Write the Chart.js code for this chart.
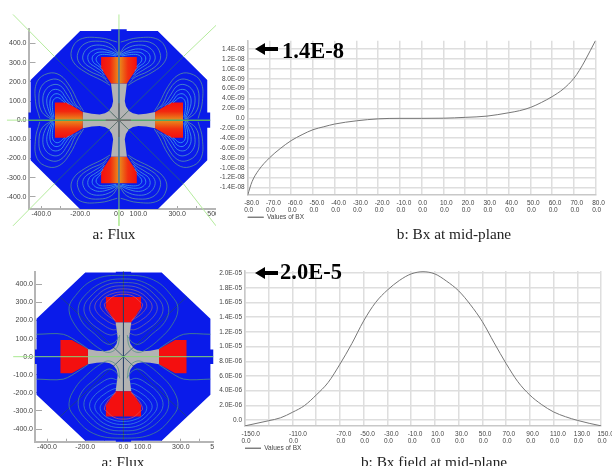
<!DOCTYPE html>
<html>
<head>
<meta charset="utf-8">
<script src="https://cdn.jsdelivr.net/npm/chart.js@4"></script>
<style>
    html, body { margin: 0; padding: 0; background: #fff; width: 612px; height: 466px; overflow: hidden; }
    canvas { position: absolute; filter: blur(0.45px); }
    .caption { position: absolute; font: 15.3px "Liberation Serif", serif; color: #222; white-space: nowrap; transform: translateX(-50%); filter: blur(0.3px); }
    .note { position: absolute; font: bold 22.5px "Liberation Serif", serif; color: #000; white-space: nowrap; }
    .arrow { position: absolute; width: 23px; height: 12px; background: #000; clip-path: polygon(0 50%, 10px 0, 10px 4px, 100% 4px, 100% 8px, 10px 8px, 10px 100%); }
</style>
</head>
<body>
<canvas id="fluxA" width="216" height="222" style="left:0;top:8px"></canvas>
<canvas id="fieldA" width="396" height="197" style="left:216px;top:35px"></canvas>
<canvas id="fluxB" width="219" height="200" style="left:0;top:262px;clip-path:inset(0 5px 0 0)"></canvas>
<canvas id="fieldB" width="396" height="202" style="left:216px;top:263px"></canvas>

<div class="arrow" style="left:255px;top:43px"></div>
<div class="note" style="left:282px;top:38px">1.4E-8</div>
<div class="arrow" style="left:255px;top:267px"></div>
<div class="note" style="left:280px;top:259px">2.0E-5</div>
<div class="caption" style="left:114px;top:225px">a: Flux</div>
<div class="caption" style="left:454px;top:225px">b: Bx at mid-plane</div>
<div class="caption" style="left:123px;top:453px">a: Flux</div>
<div class="caption" style="left:434px;top:453px">b: Bx field at mid-plane</div>

<script>
// Field at mid-plane, top chart
const fieldAX = [-80, -78, -75, -70, -65, -60, -55, -50, -45, -40, -30, -20, -10, 0, 10, 20, 30, 40, 45, 50, 55, 60, 65, 70, 72.5, 75, 80];
const fieldAY = [-1.55e-8, -1.28e-8, -1.05e-8, -8.0e-9, -6.1e-9, -4.5e-9, -3.3e-9, -2.3e-9, -1.7e-9, -1.15e-9, -5.0e-10, -1.0e-10, 0, 0, 3.0e-11, 2.0e-10, 4.5e-10, 1.13e-9, 1.55e-9, 2.2e-9, 3.2e-9, 4.4e-9, 5.9e-9, 8.1e-9, 9.7e-9, 1.16e-8, 1.58e-8];
const fieldATickX = [-80, -70, -60, -50, -40, -30, -20, -10, 0, 10, 20, 30, 40, 50, 60, 70, 80];
const fieldATickY = [1.4e-8, 1.2e-8, 1e-8, 8e-9, 6e-9, 4e-9, 2e-9, 0, -2e-9, -4e-9, -6e-9, -8e-9, -1e-8, -1.2e-8, -1.4e-8];
const fieldALabelX = ['-80.0', '-70.0', '-60.0', '-50.0', '-40.0', '-30.0', '-20.0', '-10.0', '0.0', '10.0', '20.0', '30.0', '40.0', '50.0', '60.0', '70.0', '80.0'];
const fieldALabelY = ['1.4E-08', '1.2E-08', '1.0E-08', '8.0E-09', '6.0E-09', '4.0E-09', '2.0E-09', '0.0', '-2.0E-09', '-4.0E-09', '-6.0E-09', '-8.0E-09', '-1.0E-08', '-1.2E-08', '-1.4E-08'];

// Field at mid-plane, bottom chart
const fieldBX = [-150, -130, -120, -110, -100, -90, -80, -70, -60, -50, -40, -30, -20, -10, 0, 10, 20, 30, 40, 50, 60, 70, 80, 90, 100, 110, 120, 130, 140, 150];
const fieldBY = [-8e-7, -1e-7, 3e-7, 1.05e-6, 1.95e-6, 3.4e-6, 5.1e-6, 7.6e-6, 1.04e-5, 1.35e-5, 1.6e-5, 1.77e-5, 1.9e-5, 1.99e-5, 2.02e-5, 1.99e-5, 1.89e-5, 1.76e-5, 1.57e-5, 1.34e-5, 1.05e-5, 7.7e-6, 5.2e-6, 3.4e-6, 2.1e-6, 1.1e-6, 4.5e-7, -5e-8, -4.5e-7, -8e-7];
const fieldBTickX = [-150, -130, -110, -90, -70, -50, -30, -10, 10, 30, 50, 70, 90, 110, 130, 150];
const fieldBTickY = [2e-5, 1.8e-5, 1.6e-5, 1.4e-5, 1.2e-5, 1e-5, 8e-6, 6e-6, 4e-6, 2e-6, 0];
const fieldBLabelX = ['-150.0', '', '-110.0', '', '-70.0', '-50.0', '-30.0', '-10.0', '10.0', '30.0', '50.0', '70.0', '90.0', '110.0', '130.0', '150.0'];
const fieldBLabelY = ['2.0E-05', '1.8E-05', '1.6E-05', '1.4E-05', '1.2E-05', '1.0E-05', '8.0E-06', '6.0E-06', '4.0E-06', '2.0E-06', '0.0'];

// Magnet cross-section, shared by both flux plots
const fluxTickX = [-400, -300, -200, -100, 0, 100, 200, 300, 400, 500];
const fluxTickY = [400, 300, 200, 100, 0, -100, -200, -300, -400];
const fluxLabelX = ['-400.0', '', '-200.0', '', '0.0', '100.0', '', '300.0', '', '500.0'];
const fluxLabelY = ['400.0', '300.0', '200.0', '100.0', '0.0', '-100.0', '-200.0', '-300.0', '-400.0'];
const yokeShape = [[-200, 465], [-40, 465], [-40, 475], [40, 475], [40, 465], [200, 465], [455, 210], [455, 40], [470, 40], [470, -40], [455, -40], [455, -210], [200, -465], [40, -465], [40, -478], [-40, -478], [-40, -465], [-200, -465], [-455, -210], [-455, -40], [-470, -40], [-470, 40], [-455, 40], [-455, 210]];
const poleTop = [[-92, 330], [92, 330], [92, 270], [41, 191], [-41, 191], [-92, 270]];
const poleBottom = [[-92, -330], [92, -330], [92, -270], [41, -191], [-41, -191], [-92, -270]];
const poleRight = [[186, 42], [270, 92], [330, 92], [330, -92], [270, -92], [186, -42]];
const poleLeft = [[-186, 42], [-270, 92], [-330, 92], [-330, -92], [-270, -92], [-186, -42]];
const ironCross = [[-41, 191], [41, 191], [36, 150], [30, 100], [36, 72], [52, 48], [72, 36], [100, 30], [140, 33], [186, 42], [186, -42], [140, -33], [100, -30], [72, -36], [52, -48], [36, -72], [30, -100], [36, -150], [41, -191], [-41, -191], [-36, -150], [-30, -100], [-36, -72], [-52, -48], [-72, -36], [-100, -30], [-140, -33], [-186, -42], [-186, 42], [-140, 33], [-100, 30], [-72, 36], [-52, 48], [-36, 72], [-30, 100], [-36, 150]];
const guideInside = [[[-332, 332], [332, -332]], [[-332, -332], [332, 332]]];
const guideOutsideA = [[[-546, 552], [-332, 332]], [[332, -332], [500, -552]], [[-546, -552], [-332, -332]], [[332, 332], [500, 495]], [[-577, 0], [-470, 0]], [[0, 475], [0, 552]], [[0, -465], [0, -552]]];
const centerMarkA = [[[-68, 0], [62, 0]], [[0, 88], [0, -88]], [[-38, 38], [38, -38]], [[-38, -38], [38, 38]]];

// One flux lobe of the top plot, the other seven are its reflections
const loopsA = [
    [[-9, 408], [-98, 430], [-200, 422], [-244, 365], [-235, 304], [-175, 252], [-89, 208], [-46, 182]],
    [[-5, 350], [-40, 395], [-100, 412], [-175, 400], [-212, 350], [-205, 300], [-150, 255], [-85, 225], [-55, 195]],
    [[-5, 345], [-40, 375], [-100, 392], [-155, 380], [-185, 340], [-178, 300], [-135, 268], [-90, 240], [-65, 215]],
    [[-5, 342], [-45, 360], [-100, 372], [-140, 360], [-160, 335], [-152, 300], [-122, 278], [-90, 255], [-75, 235]],
    [[-8, 338], [-50, 352], [-100, 355], [-125, 345], [-138, 325], [-130, 300], [-110, 285], [-92, 270], [-82, 255]],
    [[-15, 335], [-55, 342], [-95, 342], [-112, 332], [-118, 318], [-112, 302], [-100, 290], [-92, 278]]
];
const loopColorsA = ['#5a9098', '#5a94a8', '#5098c8', '#48a0e0', '#40a8f0', '#38a8f0'];

// Left half of each flux loop of the bottom plot, top side
const loopsB = [
    [[0, 450], [-158, 424], [-263, 322], [-285, 258], [-254, 175], [-193, 102], [-114, 37], [-71, 24], [-32, 55], [-20, 120]],
    [[0, 430], [-110, 410], [-205, 335], [-237, 265], [-215, 190], [-150, 125], [-85, 70], [-45, 80], [-25, 110]],
    [[0, 410], [-95, 395], [-175, 330], [-207, 270], [-185, 205], [-125, 150], [-70, 120], [-30, 130]],
    [[0, 392], [-85, 378], [-150, 325], [-177, 275], [-160, 225], [-105, 175], [-60, 150], [-35, 150]],
    [[0, 375], [-72, 362], [-128, 320], [-150, 280], [-135, 240], [-90, 200], [-55, 180], [-38, 175]],
    [[0, 358], [-60, 348], [-105, 320], [-122, 285], [-110, 255], [-80, 225], [-50, 205], [-40, 195]],
    [[0, 345], [-50, 335], [-90, 300], [-100, 290], [-85, 250], [-55, 215], [-42, 200]]
];
const loopColorsBTop = ['#4f9080', '#568a84', '#648090', '#7a7498', '#90688c', '#a0607c', '#e05060'];
const loopColorsBBottom = ['#4f9080', '#4c8e94', '#4a90b0', '#4692cc', '#4094dc', '#3a94e4', '#e05060'];
const wingB = [[-455, 124], [-315, 124], [-228, 74], [-184, 42]];
const guideOutsideB = [[[-577, 0], [-470, 0]]];

function toPoints(pairs) {
    return pairs.map(function(p) { return { x: p[0], y: p[1] }; });
}

function shapeSet(pairs, color) {
    return {
        data: toPoints(pairs.concat([pairs[0]])),
        showLine: true, fill: 'shape', tension: 0, pointRadius: 0,
        borderWidth: 0, borderColor: 'transparent', backgroundColor: color
    };
}

function lineSet(pairs, color, width, tension, clip) {
    let set = {
        data: toPoints(pairs),
        showLine: true, fill: false, tension: tension, pointRadius: 0,
        borderWidth: width, borderColor: color
    };
    if (clip === false) {
        set.clip = false;
    }
    return set;
}

// Fill of the poles in the top plot, hot stripe along the pole axis
function poleGlow(axis) {
    return function(context) {
        let chart = context.chart;
        if (!chart.chartArea) {
            return '#f01010';
        }
        let grad;
        if (axis === 'x') {
            grad = chart.ctx.createLinearGradient(chart.scales.x.getPixelForValue(-92), 0, chart.scales.x.getPixelForValue(92), 0);
        } else {
            grad = chart.ctx.createLinearGradient(0, chart.scales.y.getPixelForValue(92), 0, chart.scales.y.getPixelForValue(-92));
        }
        grad.addColorStop(0, '#f40f0f');
        grad.addColorStop(0.25, '#f2260f');
        grad.addColorStop(0.5, '#e8901c');
        grad.addColorStop(0.75, '#f2300f');
        grad.addColorStop(1, '#f40f0f');
        return grad;
    };
}

function mirrored(pairs, mapX, mapY, swap) {
    return pairs.map(function(p) {
        return swap ? [p[1] * mapX, p[0] * mapY] : [p[0] * mapX, p[1] * mapY];
    });
}

function fluxSetsA() {
    let sets = [
        shapeSet(yokeShape, '#0a1bea'),
        shapeSet(ironCross, '#b3b3b3'),
        shapeSet(poleTop, poleGlow('x')),
        shapeSet(poleBottom, poleGlow('x')),
        shapeSet(poleLeft, poleGlow('y')),
        shapeSet(poleRight, poleGlow('y'))
    ];
    sets.push(lineSet([[-470, 0], [470, 0]], '#4fa86a', 1.5, 0));
    sets.push(lineSet([[0, 475], [0, -465]], '#4f7f9a', 1, 0));
    guideInside.forEach(function(seg) {
        sets.push(lineSet(seg, '#2c6d62', 0.7, 0));
    });
    guideOutsideA.forEach(function(seg) {
        sets.push(lineSet(seg, '#b4eb9c', 1, 0, false));
    });
    loopsA.forEach(function(loop, i) {
        [[1, 1, false], [-1, 1, false], [1, -1, false], [-1, -1, false], [1, 1, true], [-1, 1, true], [1, -1, true], [-1, -1, true]].forEach(function(m) {
            sets.push(lineSet(mirrored(loop, m[0], m[1], m[2]), loopColorsA[i], 0.8, 0.4));
        });
    });
    centerMarkA.forEach(function(seg, i) {
        sets.push(lineSet(seg, '#6d6d6d', i < 2 ? 1.5 : 0.7, 0));
    });
    // first dataset is painted last by Chart.js, so turn the stack over
    return sets.reverse();
}

function fluxSetsB() {
    let sets = [
        shapeSet(yokeShape, '#0a1bea'),
        shapeSet(ironCross, '#b3b3b3'),
        shapeSet(poleTop, '#f40f0f'),
        shapeSet(poleBottom, '#f40f0f'),
        shapeSet(poleLeft, '#f40f0f'),
        shapeSet(poleRight, '#f40f0f')
    ];
    guideInside.forEach(function(seg) {
        sets.push(lineSet(seg, '#1e4a66', 0.7, 0));
    });
    sets.push(lineSet([[0, 475], [0, -465]], '#28406a', 0.7, 0));
    [[1, 1], [-1, 1], [1, -1], [-1, -1]].forEach(function(m) {
        sets.push(lineSet(mirrored(wingB, m[0], m[1], false), '#4f9080', 0.8, 0.3));
    });
    loopsB.forEach(function(half, i) {
        let whole = mirrored(half.slice(1).reverse(), -1, 1, false).concat(half);
        sets.push(lineSet(whole, loopColorsBTop[i], 0.7, 0.4));
        sets.push(lineSet(mirrored(whole, 1, -1, false), loopColorsBBottom[i], 0.7, 0.4));
    });
    sets.push(lineSet([[-470, 0], [470, 0]], '#86d873', 1, 0));
    guideOutsideB.forEach(function(seg) {
        sets.push(lineSet(seg, '#a8e88e', 1, 0, false));
    });
    return sets.reverse();
}

// Pins the plot rectangle: a fixed axis size and no extra margin for the end labels
function fixSize(size, isX) {
    return function(scale) {
        if (isX) {
            scale.height = size;
        } else {
            scale.width = size;
        }
        scale.paddingLeft = scale.paddingRight = scale.paddingTop = scale.paddingBottom = 0;
    };
}

function fixTicks(values) {
    return function(scale) {
        scale.ticks = values.map(function(v) { return { value: v }; });
    };
}

function makeFluxChart(id, sets, xMin, xMax, yMin, yMax, left, top, bottomAxis) {
    new Chart(document.getElementById(id).getContext('2d'), {
        type: 'scatter',
        data: { datasets: sets },
        options: {
            responsive: false,
            animation: false,
            layout: { padding: { top: top, left: 0, right: 0, bottom: 0 } },
            plugins: { legend: { display: false }, tooltip: { enabled: false } },
            scales: {
                x: {
                    type: 'linear', min: xMin, max: xMax,
                    afterFit: fixSize(bottomAxis, true),
                    afterBuildTicks: fixTicks(fluxTickX),
                    border: { color: '#b5b5b5', width: 2 },
                    grid: { drawOnChartArea: false, tickLength: -3, color: '#a8a8a8' },
                    ticks: {
                        autoSkip: false, maxRotation: 0, padding: 4, color: '#444',
                        font: { family: '"Liberation Sans", sans-serif', size: 7 },
                        callback: function(value, index) { return fluxLabelX[index]; }
                    }
                },
                y: {
                    type: 'linear', min: yMin, max: yMax,
                    afterFit: fixSize(left, false),
                    afterBuildTicks: fixTicks(fluxTickY),
                    border: { color: '#b5b5b5', width: 2 },
                    grid: { drawOnChartArea: false, tickLength: -7, color: '#a8a8a8' },
                    ticks: {
                        autoSkip: false, padding: 9, color: '#444',
                        font: { family: '"Liberation Sans", sans-serif', size: 7 },
                        callback: function(value, index) { return fluxLabelY[index]; }
                    }
                }
            }
        }
    });
}

// Moves the legend under the plot's left edge instead of the canvas edge
const legendAtPlot = {
    id: 'legendAtPlot',
    afterLayout: function(chart) {
        chart.legend.left = chart.chartArea.left - 2;
        chart.legend.top = chart.chartArea.bottom + 17;
    }
};

function makeFieldChart(id, xs, ys, tickX, tickY, labelX, labelY, xMin, xMax, yMin, yMax, left, top, right, axisHeight) {
    new Chart(document.getElementById(id).getContext('2d'), {
        type: 'line',
        data: {
            datasets: [{
                label: 'Values of BX',
                data: xs.map(function(x, i) { return { x: x, y: ys[i] }; }),
                borderColor: '#777',
                backgroundColor: 'transparent',
                borderWidth: 1,
                cubicInterpolationMode: 'monotone',
                pointRadius: 0,
                fill: false
            }]
        },
        plugins: [legendAtPlot],
        options: {
            responsive: false,
            animation: false,
            layout: { padding: { top: top, right: right, left: 0, bottom: 0 } },
            plugins: {
                tooltip: { enabled: false },
                legend: {
                    position: 'bottom', align: 'start',
                    labels: {
                        boxWidth: 16, boxHeight: 0, padding: 2, color: '#444',
                        font: { family: '"Liberation Sans", sans-serif', size: 6.5 }
                    }
                }
            },
            scales: {
                x: {
                    type: 'linear', min: xMin, max: xMax,
                    afterFit: fixSize(axisHeight, true),
                    afterBuildTicks: fixTicks(tickX),
                    border: { color: '#c8c8c8', width: 1.5 },
                    grid: { color: '#dedede', lineWidth: 1.5, drawTicks: false },
                    ticks: {
                        autoSkip: false, maxRotation: 0, align: 'start', labelOffset: -3.5, padding: 4.5, color: '#444',
                        font: { family: '"Liberation Sans", sans-serif', size: 6.5, lineHeight: 1.1 },
                        callback: function(value, index) {
                            return labelX[index] === '' ? '' : [labelX[index], '0.0'];
                        }
                    }
                },
                y: {
                    type: 'linear', min: yMin, max: yMax,
                    afterFit: fixSize(left, false),
                    afterBuildTicks: fixTicks(tickY),
                    border: { color: '#c8c8c8', width: 1.5 },
                    grid: { color: '#dedede', lineWidth: 1.5, drawTicks: false },
                    ticks: {
                        autoSkip: false, padding: 3, color: '#444',
                        font: { family: '"Liberation Sans", sans-serif', size: 6.5 },
                        callback: function(value, index) { return labelY[index]; }
                    }
                }
            }
        }
    });
}

makeFluxChart('fluxA', fluxSetsA(), -466, 500, -464, 476, 28.5, 21, 21);
makeFluxChart('fluxB', fluxSetsB(), -463, 500, -470, 470, 35, 9.7, 20.3);
makeFieldChart('fieldA', fieldAX, fieldAY, fieldATickX, fieldATickY, fieldALabelX, fieldALabelY, -80, 80, -1.55e-8, 1.57e-8, 31.7, 5.7, 16.3, 18.5);
makeFieldChart('fieldB', fieldBX, fieldBY, fieldBTickX, fieldBTickY, fieldBLabelX, fieldBLabelY, -150, 150, -8.2e-7, 2.03e-5, 29, 8, 11, 20.5);
</script>
</body>
</html>
